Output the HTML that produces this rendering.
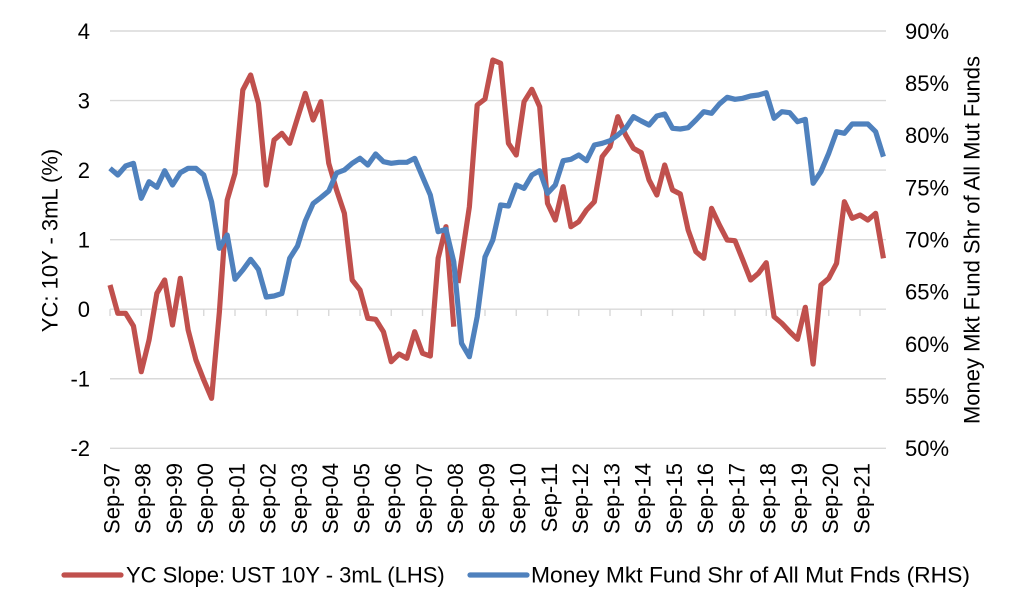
<!DOCTYPE html>
<html>
<head>
<meta charset="utf-8">
<style>
  html,body{margin:0;padding:0;background:#fff;}
  svg{display:block;}
  text{font-family:"Liberation Sans",Arial,sans-serif;font-size:22px;fill:#000;}
</style>
</head>
<body>
<svg width="1024" height="614" viewBox="0 0 1024 614" xmlns="http://www.w3.org/2000/svg">
  <rect x="0" y="0" width="1024" height="614" fill="#fff"/>
  <!-- gridlines -->
  <g stroke="#d9d9d9" stroke-width="1.4" fill="none">
    <line x1="110" y1="31" x2="886" y2="31"/>
    <line x1="110" y1="100.55" x2="886" y2="100.55"/>
    <line x1="110" y1="170.1" x2="886" y2="170.1"/>
    <line x1="110" y1="239.65" x2="886" y2="239.65"/>
    <line x1="110" y1="309.2" x2="886" y2="309.2"/>
    <line x1="110" y1="378.75" x2="886" y2="378.75"/>
    <line x1="110" y1="448.3" x2="886" y2="448.3"/>
  </g>
  <!-- x tick marks on zero axis -->
  <g stroke="#d9d9d9" stroke-width="1.4">
    <line x1="110" y1="309.2" x2="110" y2="316"/>
    <line x1="141.25" y1="309.2" x2="141.25" y2="316"/>
    <line x1="172.5" y1="309.2" x2="172.5" y2="316"/>
    <line x1="203.75" y1="309.2" x2="203.75" y2="316"/>
    <line x1="235" y1="309.2" x2="235" y2="316"/>
    <line x1="266.25" y1="309.2" x2="266.25" y2="316"/>
    <line x1="297.5" y1="309.2" x2="297.5" y2="316"/>
    <line x1="328.75" y1="309.2" x2="328.75" y2="316"/>
    <line x1="360" y1="309.2" x2="360" y2="316"/>
    <line x1="391.25" y1="309.2" x2="391.25" y2="316"/>
    <line x1="422.5" y1="309.2" x2="422.5" y2="316"/>
    <line x1="453.75" y1="309.2" x2="453.75" y2="316"/>
    <line x1="485" y1="309.2" x2="485" y2="316"/>
    <line x1="516.25" y1="309.2" x2="516.25" y2="316"/>
    <line x1="547.5" y1="309.2" x2="547.5" y2="316"/>
    <line x1="578.75" y1="309.2" x2="578.75" y2="316"/>
    <line x1="610" y1="309.2" x2="610" y2="316"/>
    <line x1="641.25" y1="309.2" x2="641.25" y2="316"/>
    <line x1="672.5" y1="309.2" x2="672.5" y2="316"/>
    <line x1="703.75" y1="309.2" x2="703.75" y2="316"/>
    <line x1="735" y1="309.2" x2="735" y2="316"/>
    <line x1="766.25" y1="309.2" x2="766.25" y2="316"/>
    <line x1="797.5" y1="309.2" x2="797.5" y2="316"/>
    <line x1="828.75" y1="309.2" x2="828.75" y2="316"/>
    <line x1="860" y1="309.2" x2="860" y2="316"/>
  </g>

  <!-- red series -->
  <g fill="none" stroke="#c0504d" stroke-width="5.2" stroke-linejoin="round" stroke-linecap="butt">
    <polyline points="110,285 117.81,313.3 125.63,313.3 133.44,326 141.25,371.7 149.06,340 156.88,293.3 164.69,280 172.5,325 180.31,278.3 188.13,330 195.94,360 203.75,380 211.56,398.3 219.38,312 227.19,200 235,173.3 242.81,90 250.63,75 258.44,103.3 266.25,185 274.06,140 281.88,133.3 289.69,143.3 297.5,118 305.31,93.3 313.13,120 320.94,101.7 328.75,163.3 336.56,190 344.38,213.3 352.19,280 360,290 367.81,318.3 375.63,319.3 383.44,331.7 391.25,361.7 399.06,354 406.88,358.3 414.69,331.7 422.5,353.3 430.31,356 438.13,258.3 445.94,226.7 453.75,326.7"/>
    <polyline points="458,283 469.38,206.7 477.19,105 485,99 492.81,60 500.63,63.3 508.44,143.3 516.25,155 524.06,101.7 531.88,89.3 539.69,106.7 547.5,203.3 555.31,220 563.13,186.7 570.94,226.7 578.75,221.7 586.56,210 594.38,201.7 602.19,156.7 610,146.7 617.81,116.7 625.63,135 633.44,148.3 641.25,152.7 649.06,180 656.88,195 664.69,165 672.5,190 680.31,194 688.13,230 695.94,251.7 703.75,258.3 711.56,208.3 719.38,225 727.19,240 735,240.7 742.81,260 750.63,280 758.44,273.3 766.25,262.7 774.06,316.7 781.88,323.3 789.69,331.7 797.5,339.3 805.31,307.3 813.13,364 820.94,285 828.75,278.3 836.56,263.3 844.38,201.7 852.19,218.3 860,215 867.81,220 875.63,213.3 883.44,258.3"/>
  </g>

  <!-- blue series -->
  <polyline fill="none" stroke="#4f81bd" stroke-width="5.2" stroke-linejoin="round" stroke-linecap="butt"
    points="110,168.3 117.81,175 125.63,166 133.44,163.3 141.25,198.3 149.06,181.7 156.88,187.3 164.69,170.7 172.5,185 180.31,172.7 188.13,168.3 195.94,168.3 203.75,175 211.56,201.7 219.38,248.3 227.19,235 235,279.3 242.81,270 250.63,259.3 258.44,269.5 266.25,297 274.06,296 281.88,293.5 289.69,258.3 297.5,246 305.31,221 313.13,203.5 320.94,197.5 328.75,191 336.56,173 344.38,170 352.19,163.3 360,158.3 367.81,165 375.63,154 383.44,161.7 391.25,163.3 399.06,162.3 406.88,162.3 414.69,158.3 422.5,176.7 430.31,195 438.13,231.7 445.94,229.3 453.75,261.7 461.56,343.3 469.38,356.7 477.19,316.7 485,257 492.81,240 500.63,205 508.44,206 516.25,185 524.06,188.3 531.88,175 539.69,170.7 547.5,193.3 555.31,185 563.13,160.7 570.94,159.3 578.75,155 586.56,160.7 594.38,145 602.19,143.3 610,140.7 617.81,135 625.63,128.3 633.44,116.7 641.25,121 649.06,125 656.88,116 664.69,114 672.5,128.3 680.31,129 688.13,127.7 695.94,120 703.75,111.7 711.56,113.3 719.38,104 727.19,97.3 735,99.3 742.81,98.3 750.63,96 758.44,95 766.25,92.7 774.06,118.3 781.88,111.7 789.69,112.7 797.5,121.7 805.31,119.3 813.13,183.3 820.94,171.7 828.75,153.3 836.56,131.7 844.38,133.3 852.19,124 860,124 867.81,124 875.63,131.7 883.44,156.7"/>

  <!-- left tick labels -->
  <g text-anchor="end">
    <text x="90" y="38.9">4</text>
    <text x="90" y="108.45">3</text>
    <text x="90" y="178">2</text>
    <text x="90" y="247.55">1</text>
    <text x="90" y="317.1">0</text>
    <text x="90" y="386.65">-1</text>
    <text x="90" y="456.2">-2</text>
  </g>

  <!-- right tick labels -->
  <g text-anchor="start">
    <text x="905" y="38.9">90%</text>
    <text x="905" y="91.06">85%</text>
    <text x="905" y="143.22">80%</text>
    <text x="905" y="195.38">75%</text>
    <text x="905" y="247.54">70%</text>
    <text x="905" y="299.7">65%</text>
    <text x="905" y="351.86">60%</text>
    <text x="905" y="404.02">55%</text>
    <text x="905" y="456.2">50%</text>
  </g>

  <!-- x labels -->
  <g text-anchor="end">
    <text transform="translate(119.3,463) rotate(-90)">Sep-97</text>
    <text transform="translate(150.55,463) rotate(-90)">Sep-98</text>
    <text transform="translate(181.8,463) rotate(-90)">Sep-99</text>
    <text transform="translate(213.05,463) rotate(-90)">Sep-00</text>
    <text transform="translate(244.3,463) rotate(-90)">Sep-01</text>
    <text transform="translate(275.55,463) rotate(-90)">Sep-02</text>
    <text transform="translate(306.8,463) rotate(-90)">Sep-03</text>
    <text transform="translate(338.05,463) rotate(-90)">Sep-04</text>
    <text transform="translate(369.3,463) rotate(-90)">Sep-05</text>
    <text transform="translate(400.55,463) rotate(-90)">Sep-06</text>
    <text transform="translate(431.8,463) rotate(-90)">Sep-07</text>
    <text transform="translate(463.05,463) rotate(-90)">Sep-08</text>
    <text transform="translate(494.3,463) rotate(-90)">Sep-09</text>
    <text transform="translate(525.55,463) rotate(-90)">Sep-10</text>
    <text transform="translate(556.8,463) rotate(-90)">Sep-11</text>
    <text transform="translate(588.05,463) rotate(-90)">Sep-12</text>
    <text transform="translate(619.3,463) rotate(-90)">Sep-13</text>
    <text transform="translate(650.55,463) rotate(-90)">Sep-14</text>
    <text transform="translate(681.8,463) rotate(-90)">Sep-15</text>
    <text transform="translate(713.05,463) rotate(-90)">Sep-16</text>
    <text transform="translate(744.3,463) rotate(-90)">Sep-17</text>
    <text transform="translate(775.55,463) rotate(-90)">Sep-18</text>
    <text transform="translate(806.8,463) rotate(-90)">Sep-19</text>
    <text transform="translate(838.05,463) rotate(-90)">Sep-20</text>
    <text transform="translate(869.3,463) rotate(-90)">Sep-21</text>
  </g>

  <!-- axis titles -->
  <text transform="translate(57.3,240.5) rotate(-90)" text-anchor="middle">YC: 10Y - 3mL (%)</text>
  <text transform="translate(979.3,240) rotate(-90)" text-anchor="middle">Money Mkt Fund Shr of All Mut Funds</text>

  <!-- legend -->
  <line x1="64" y1="575" x2="121" y2="575" stroke="#c0504d" stroke-width="5.2" stroke-linecap="round"/>
  <text x="126" y="582.5">YC Slope: UST 10Y - 3mL (LHS)</text>
  <line x1="470" y1="575" x2="527" y2="575" stroke="#4f81bd" stroke-width="5.2" stroke-linecap="round"/>
  <text x="531" y="582.5" textLength="439" lengthAdjust="spacingAndGlyphs">Money Mkt Fund Shr of All Mut Fnds (RHS)</text>
</svg>
</body>
</html>
